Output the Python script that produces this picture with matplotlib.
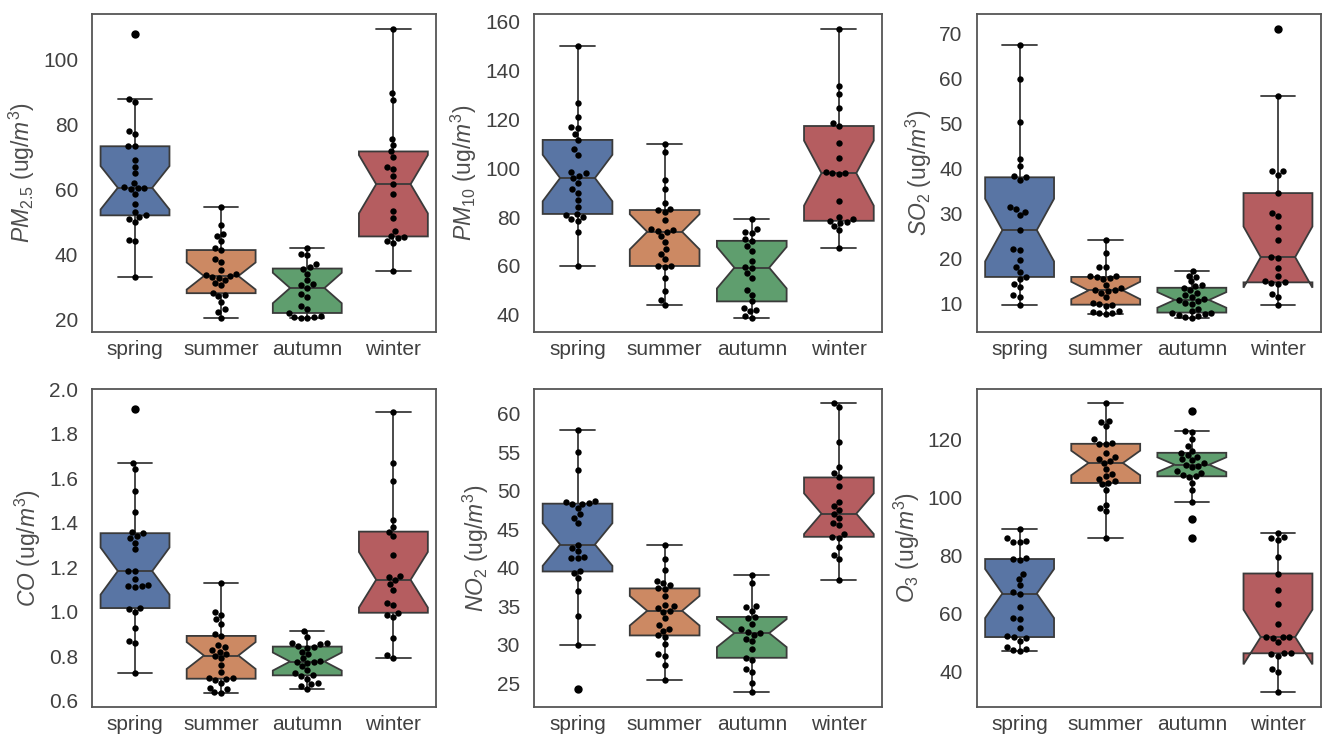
import numpy as np
import pandas as pd
import seaborn as sns
import matplotlib
matplotlib.use("Agg")
from matplotlib import pyplot as plt
from matplotlib.ticker import MultipleLocator

seasons = ["spring", "summer", "autumn", "winter"]

# valeurs (ug/m3)
pm25 = {
    "spring": [33, 44, 44.5, 50, 51, 51.5, 52, 53, 55.5, 58.5, 60, 60.3, 60.5, 60.7, 62, 65, 67, 69, 73.3, 73.5, 77, 78, 87, 88, 108],
    "summer": [20.5, 22.3, 23, 25.2, 27, 27.5, 28, 30.4, 31, 32, 32.8, 33, 33.3, 33.5, 34, 35, 37.7, 38.5, 41.3, 41.8, 44, 45.5, 46.3, 48.9, 54.6],
    "autumn": [20.5, 20.5, 20.6, 20.7, 21, 21.9, 23, 24, 26.8, 27.8, 29.6, 30.4, 30.8, 32, 34, 35.6, 36, 37, 39.7, 40, 42],
    "winter": [34.8, 43.5, 44, 45, 45.3, 45.5, 47.2, 51.2, 53.2, 58.6, 61.6, 64, 66.2, 67, 69.9, 71.7, 73.7, 75.6, 87.7, 89.6, 109.6],
}
pm10 = {
    "spring": [60, 74, 78.5, 79.2, 80, 81, 81.3, 84, 87.2, 90, 91.6, 94, 96, 97, 98, 98.5, 105.5, 107.7, 111.6, 114, 116.4, 117, 120.8, 126.7, 150],
    "summer": [44.1, 46.2, 49.6, 55, 59.5, 59.8, 60, 62.7, 65, 66.8, 70, 72.3, 74, 74.5, 74.7, 75, 79, 82, 82.9, 83.5, 85.7, 91.6, 95, 106.7, 109.8],
    "autumn": [38.9, 39.5, 41.4, 42, 42.8, 45.5, 48.3, 50.3, 55.1, 57, 59.3, 59.5, 62, 66.1, 68, 70.3, 71, 73.4, 74, 75.1, 79.2],
    "winter": [67.2, 74.7, 76.5, 77.5, 78, 78.5, 79.2, 80.2, 86.8, 97.5, 98, 98, 98.5, 104, 110.5, 117.3, 118.7, 124.6, 130.4, 133.8, 157.2],
}
so2 = {
    "spring": [9.85, 11.5, 11.9, 13.7, 14.5, 15.5, 16, 17, 18.2, 19.8, 22, 22.3, 26.4, 29.8, 30.5, 31, 31.6, 37.5, 38.1, 38.3, 40.7, 42.2, 50.4, 60, 67.5],
    "summer": [7.8, 7.9, 8.1, 8.3, 8.5, 9.5, 9.85, 10, 10.2, 11.5, 12.5, 12.8, 13, 13.2, 13.6, 14.2, 15.5, 15.8, 16, 16.1, 16.3, 18.2, 18.3, 21.2, 24.2],
    "autumn": [7, 7.1, 7.3, 7.5, 7.7, 7.9, 8.1, 8.5, 9, 10, 10.3, 10.6, 10.9, 11.2, 11.5, 11.9, 12.5, 13, 13.6, 13.9, 14.2, 15, 16, 16.3, 17.3],
    "winter": [9.85, 11.5, 12.2, 14.5, 14.7, 14.8, 15.2, 16.3, 18, 20.3, 20.4, 24.3, 27.1, 29.5, 30.1, 34.6, 38.7, 39.4, 39.5, 56.1, 71.1],
}
co = {
    "spring": [0.726, 0.86, 0.869, 0.928, 1.0, 1.015, 1.017, 1.11, 1.115, 1.117, 1.12, 1.147, 1.183, 1.185, 1.28, 1.309, 1.33, 1.339, 1.353, 1.36, 1.449, 1.541, 1.641, 1.668, 1.91],
    "summer": [0.637, 0.64, 0.652, 0.66, 0.681, 0.695, 0.70, 0.703, 0.705, 0.73, 0.762, 0.792, 0.804, 0.81, 0.822, 0.83, 0.844, 0.85, 0.892, 0.9, 0.947, 0.966, 0.987, 1.0, 1.129],
    "autumn": [0.652, 0.665, 0.675, 0.681, 0.7, 0.71, 0.715, 0.725, 0.74, 0.755, 0.77, 0.775, 0.777, 0.78, 0.792, 0.81, 0.82, 0.839, 0.844, 0.845, 0.855, 0.858, 0.86, 0.888, 0.913],
    "winter": [0.795, 0.807, 0.881, 0.975, 0.985, 0.996, 1.03, 1.04, 1.099, 1.124, 1.144, 1.157, 1.16, 1.253, 1.339, 1.36, 1.383, 1.412, 1.587, 1.666, 1.895],
}
no2 = {
    "spring": [24.3, 30, 33.7, 37, 38.6, 39.3, 39.5, 41.2, 41.3, 41.4, 42.1, 42.6, 43, 45.8, 46.5, 46.9, 47.7, 48.2, 48.3, 48.4, 48.5, 48.6, 52.7, 55, 57.8],
    "summer": [25.4, 27.3, 28.5, 28.8, 30.1, 31, 31.2, 31.8, 32, 32.5, 33.5, 34.3, 34.4, 34.8, 35, 35.1, 36.3, 37.2, 37.3, 37.7, 38, 38.3, 39.7, 41.1, 43],
    "autumn": [23.8, 25, 26.4, 26.9, 28, 28.3, 29.5, 30.5, 30.8, 31.3, 31.5, 31.7, 32.0, 32.7, 33.4, 33.6, 34.4, 34.9, 35.0, 38, 39],
    "winter": [38.4, 41.1, 41.7, 42.7, 43.8, 44, 44.3, 45.5, 45.8, 46.5, 47, 47.5, 48, 48.5, 50.6, 51.7, 52.3, 53.1, 56.3, 60.8, 61.3],
}
o3 = {
    "spring": [47, 47.3, 47.9, 48.5, 50.7, 51.5, 51.9, 52.1, 55, 58.2, 58.3, 62.3, 66.9, 67.5, 69.8, 72, 73.8, 78.5, 78.8, 79, 84.5, 84.8, 85, 86, 89.1],
    "summer": [86.2, 95.2, 96.5, 97.5, 102.7, 104.5, 105, 105.6, 106.5, 107.3, 108, 109.8, 111.9, 112.5, 113.3, 114, 115.4, 118.3, 118.5, 118.8, 120, 124.5, 126, 126.5, 132.4],
    "autumn": [86.2, 92.5, 98.3, 102.7, 105, 107, 107.3, 107.9, 108.5, 109, 110.5, 111, 111.3, 112, 112.8, 113.1, 114, 114.5, 115.4, 116, 117.7, 120, 122.5, 122.9, 129.8],
    "winter": [32.8, 39.8, 40.9, 45.5, 46, 46.3, 46.5, 50.2, 51.5, 51.8, 51.9, 52, 56.5, 63.2, 68, 73.8, 79.6, 85.5, 85.9, 86.5, 87.9],
}

polluants = [pm25, pm10, so2, co, no2, o3]
labels = [r"$PM_{2.5}$ (ug/$m^3$)", r"$PM_{10}$ (ug/$m^3$)", r"$SO_2$ (ug/$m^3$)",
          r"$CO$ (ug/$m^3$)", r"$NO_2$ (ug/$m^3$)", r"$O_3$ (ug/$m^3$)"]
pas_ticks = [20, 20, 10, 0.2, 5, 20]

sns.set_style("white")
plt.rcParams['font.family'] = ['Liberation Sans', 'DejaVu Sans']
plt.rcParams['mathtext.fontset'] = 'custom'
plt.rcParams['mathtext.rm'] = 'Liberation Sans'
plt.rcParams['mathtext.it'] = 'Liberation Sans:italic'
plt.rcParams['text.color'] = '0.25'
plt.rcParams['axes.labelcolor'] = '0.3'
plt.rcParams['xtick.color'] = '0.25'
plt.rcParams['ytick.color'] = '0.25'

fig = plt.figure(figsize=(13.25, 7.41), dpi=100)

# positions des axes (mesurees sur l'image)
lefts = [0.0694, 0.403, 0.737]
widths = [0.260, 0.263, 0.260]
bottoms = [0.552, 0.046]

for i, (data, lab, pas) in enumerate(zip(polluants, labels, pas_ticks)):
    row, col = divmod(i, 3)
    ax = fig.add_axes([lefts[col], bottoms[row], widths[col], 0.429])
    df = pd.DataFrame([(s, v) for s in seasons for v in data[s]], columns=["season", "value"])
    sns.boxplot(data=df, x="season", y="value", hue="season", order=seasons, hue_order=seasons,
                palette="deep", notch=True, width=0.8, linewidth=1.3, linecolor="#3a3a3a",
                flierprops=dict(marker="o", markersize=5, markerfacecolor="black", markeredgecolor="black"),
                legend=False, ax=ax)
    sns.swarmplot(data=df, x="season", y="value", order=seasons, color="black", size=4.6, ax=ax)
    ax.set_xlabel("")
    ax.set_ylabel(lab, fontsize=16.5)
    ax.yaxis.set_major_locator(MultipleLocator(pas))
    if pas < 1:
        ax.yaxis.set_major_formatter(matplotlib.ticker.FormatStrFormatter("%.1f"))
        ax.set_ylim(top=2.0)
    ax.tick_params(axis="x", labelsize=15, length=0, pad=6)
    ax.tick_params(axis="y", labelsize=15, length=0, pad=10)
    for sp in ax.spines.values():
        sp.set_color("#555555")
        sp.set_linewidth(1.3)

plt.savefig("out.png", dpi=100)
